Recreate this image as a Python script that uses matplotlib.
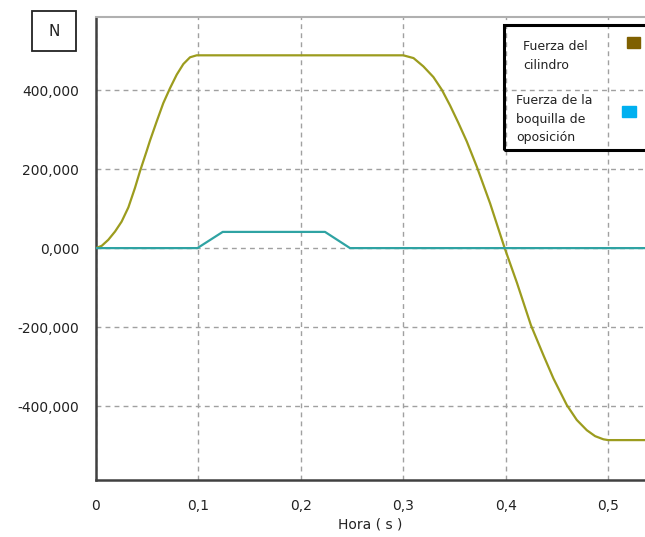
import matplotlib
matplotlib.use("Agg")
import matplotlib.pyplot as plt
from matplotlib.patches import Rectangle

# cylinder force (N) vs time (s)
cyl_t = [0.0, 0.0056, 0.012, 0.0186, 0.025, 0.0316, 0.038, 0.043, 0.0495, 0.0527,
         0.0593, 0.0657, 0.0723, 0.0788, 0.0853, 0.0918, 0.0983, 0.1,
         0.3, 0.31, 0.3196, 0.3294, 0.3376, 0.3457, 0.3538, 0.362, 0.3718, 0.3848, 0.399,
         0.411, 0.4246, 0.4368, 0.4466, 0.4596, 0.4694, 0.4792, 0.4873, 0.4954, 0.5, 0.54]
cyl_f = [0, 5800, 21000, 42000, 67000, 103000, 152000, 195000, 246000, 272000,
         321000, 367000, 405000, 439000, 466000, 483000, 488000, 488000,
         488000, 481000, 460000, 433000, 401000, 361000, 317000, 270000, 206000, 113000, 0,
         -88000, -195000, -271000, -330000, -397000, -435000, -461000, -476000, -484000,
         -486000, -486000]

# opposing nozzle force (N)
noz_t = [0.0, 0.099, 0.1237, 0.2236, 0.248, 0.54]
noz_f = [0, 0, 41000, 41000, 0, 0]

xticks = [0, 0.1, 0.2, 0.3, 0.4, 0.5]
xtick_labels = ["0", "0,1", "0,2", "0,3", "0,4", "0,5"]
yticks = [-400000, -200000, 0, 200000, 400000]
ytick_labels = ["-400,000", "-200,000", "0,000", "200,000", "400,000"]

series_names = ["Fuerza del\ncilindro", "Fuerza de la\nboquilla de\noposición"]
line_colors = ["#9c9c1e", "#2fa3a3"]
key_colors = ["#7f6000", "#00b0f0"]

plt.rcParams['font.family'] = ['DejaVu Sans']

fig = plt.figure(figsize=(6.45, 5.37), dpi=100)
ax = fig.add_axes([96 / 645, 1 - 480 / 537, 1 - 96 / 645, (480 - 17) / 537])

ax.plot(cyl_t, cyl_f, color=line_colors[0], lw=1.6, zorder=3)
ax.plot(noz_t, noz_f, color=line_colors[1], lw=1.6, zorder=3)

ax.set_xlim(0, 0.536)
ax.set_ylim(-587000, 585000)
ax.set_xticks(xticks)
ax.set_xticklabels(xtick_labels, fontsize=10, color="#222222")
ax.set_yticks(yticks)
ax.set_yticklabels(ytick_labels, fontsize=10, color="#222222")
ax.tick_params(length=0)
ax.tick_params(axis="x", pad=14)
ax.tick_params(axis="y", pad=12)
ax.set_xlabel("Hora ( s )", fontsize=10, color="#222222", labelpad=3)

ax.grid(True, color="#a0a0a0", linestyle=(0, (3.5, 3)), lw=1.0, zorder=1)
for s in ["left", "bottom"]:
    ax.spines[s].set_color("#404040")
    ax.spines[s].set_linewidth(1.8)
ax.spines["top"].set_color("#b0b0b0")
ax.spines["top"].set_linewidth(1.5)
ax.spines["right"].set_visible(False)

# legend drawn by hand: transparent box with thick black border
box = Rectangle((504 / 645, 1 - 150 / 537), 0.3, 125 / 537, transform=fig.transFigure,
                fill=False, edgecolor="black", lw=2.2, zorder=5, clip_on=False)
fig.patches.append(box)
fig.text(523 / 645, 1 - 56 / 537, series_names[0], fontsize=9, va="center", ha="left",
         linespacing=1.6, color="#222222")
fig.text(516 / 645, 1 - 119 / 537, series_names[1], fontsize=9, va="center", ha="left",
         linespacing=1.6, color="#222222")
fig.patches.append(Rectangle((627 / 645, 1 - 48 / 537), 13 / 645, 11 / 537,
                             transform=fig.transFigure, color=key_colors[0]))
fig.patches.append(Rectangle((622 / 645, 1 - 117 / 537), 14 / 645, 11 / 537,
                             transform=fig.transFigure, color=key_colors[1]))

# unit box
fig.patches.append(Rectangle((32 / 645, 1 - 51 / 537), 44 / 645, 40 / 537,
                             transform=fig.transFigure, fill=False, edgecolor="#222222", lw=1.3))
fig.text(54 / 645, 1 - 32 / 537, "N", fontsize=11, ha="center", va="center", color="#222222")

fig.savefig("out.png", dpi=100)
